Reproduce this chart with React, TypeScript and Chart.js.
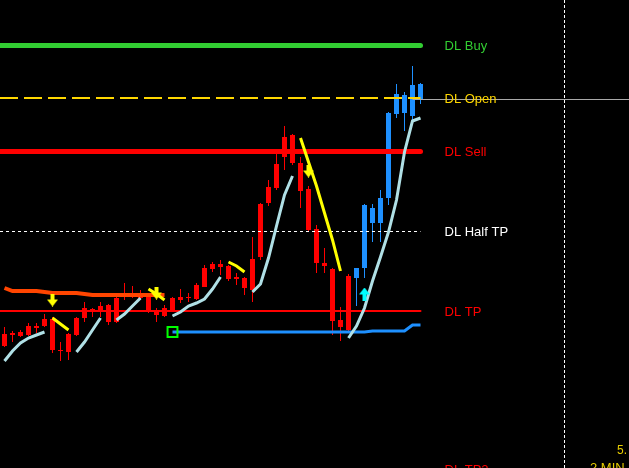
import React, { useEffect, useRef } from "react";
import { Chart, registerables } from "chart.js";

Chart.register(...registerables);

// M2 bars, oldest first
const opens = [1.08122, 1.08133, 1.08136, 1.08133, 1.08142, 1.08142, 1.08149, 1.08118, 1.08116, 1.08133, 1.0815, 1.08159, 1.08156, 1.08163, 1.08146, 1.08171, 1.08174, 1.0817, 1.08173, 1.08158, 1.08152, 1.08156, 1.08171, 1.0817, 1.08169, 1.08181, 1.08199, 1.08204, 1.08202, 1.08189, 1.0819, 1.08178, 1.08211, 1.08265, 1.0828, 1.08311, 1.08333, 1.08305, 1.08279, 1.08239, 1.08205, 1.08199, 1.08148, 1.08138, 1.0819, 1.082, 1.0826, 1.08245, 1.0827, 1.08354, 1.08373, 1.08352, 1.08384];
const highs = [1.08141, 1.08137, 1.08138, 1.08145, 1.08145, 1.08154, 1.08151, 1.08126, 1.08135, 1.08151, 1.08166, 1.0816, 1.08166, 1.08164, 1.08171, 1.08185, 1.08182, 1.08178, 1.08175, 1.0816, 1.08163, 1.08171, 1.08179, 1.08175, 1.08185, 1.08203, 1.08206, 1.08208, 1.08203, 1.08195, 1.08191, 1.08231, 1.08265, 1.08288, 1.08315, 1.08342, 1.08334, 1.08311, 1.08282, 1.08243, 1.0822, 1.082, 1.08161, 1.08194, 1.082, 1.08264, 1.08264, 1.08278, 1.08356, 1.08384, 1.08376, 1.08402, 1.08385];
const lows = [1.08121, 1.08126, 1.08131, 1.08132, 1.08135, 1.08141, 1.08115, 1.08107, 1.08108, 1.08132, 1.08146, 1.08151, 1.08151, 1.08143, 1.08145, 1.08168, 1.0817, 1.08168, 1.08155, 1.08146, 1.08151, 1.08156, 1.08165, 1.08166, 1.08168, 1.08181, 1.08196, 1.08193, 1.08187, 1.08183, 1.08173, 1.08166, 1.08208, 1.08262, 1.08278, 1.08298, 1.08303, 1.0826, 1.08237, 1.08195, 1.08195, 1.08133, 1.08127, 1.08135, 1.08162, 1.0819, 1.08226, 1.08226, 1.08263, 1.0835, 1.08337, 1.08348, 1.08364];
const closes = [1.08134, 1.08135, 1.08132, 1.08142, 1.0814, 1.08149, 1.08118, 1.08117, 1.08134, 1.0815, 1.0816, 1.08157, 1.08162, 1.08146, 1.0817, 1.08174, 1.08171, 1.08175, 1.08156, 1.08153, 1.0816, 1.0817, 1.08168, 1.08171, 1.08183, 1.082, 1.08204, 1.08201, 1.08189, 1.08191, 1.0818, 1.08209, 1.08264, 1.08281, 1.08304, 1.08331, 1.08305, 1.08277, 1.08238, 1.08205, 1.08202, 1.08147, 1.08141, 1.08192, 1.082, 1.08263, 1.08245, 1.0827, 1.08355, 1.08374, 1.08355, 1.08383, 1.08369];

// first bar painted with the bullish trend colour
const TREND_UP_FROM = 44;

// Hull MA: rising leg and falling leg
const maRising = [1.08107, 1.08117, 1.08125, 1.0813, 1.08133, 1.08136, null, null, null, 1.08116, 1.08126, 1.08138, 1.0815, null, 1.08148, 1.08154, 1.08162, 1.0817, null, null, null, 1.08152, 1.08156, 1.08162, 1.08165, 1.08169, 1.08179, 1.08191, null, null, null, 1.08176, 1.08184, 1.0821, 1.08242, 1.08273, 1.08292, null, null, null, null, null, null, 1.0813, 1.08142, 1.0816, 1.08187, 1.08211, 1.08236, 1.08268, 1.08316, 1.08347, 1.0835];
const maFalling = [null, null, null, null, null, null, 1.0815, 1.08144, 1.08138, null, null, null, null, null, null, null, null, null, 1.08179, 1.08174, 1.08168, null, null, null, null, null, null, null, 1.08206, 1.08202, 1.08196, null, null, null, null, null, null, 1.0833, 1.08306, 1.08282, 1.08255, 1.08228, 1.08197, null, null, null, null, null, null, null, null, null, null];

// trailing stops: bearish (from bar 0) and bullish (from bar 21)
const STOP_DOWN_FROM = 0;
const stopDown = [1.0818, 1.08177, 1.08177, 1.08177, 1.08177, 1.08176, 1.08175, 1.08175, 1.08175, 1.08175, 1.08174, 1.08173, 1.08173, 1.08173, 1.08173, 1.08173, 1.08173, 1.08173, 1.08173, 1.08173, 1.08173];
const STOP_UP_FROM = 21;
const stopUp = [1.08136, 1.08136, 1.08136, 1.08136, 1.08136, 1.08136, 1.08136, 1.08136, 1.08136, 1.08136, 1.08136, 1.08136, 1.08136, 1.08136, 1.08136, 1.08136, 1.08136, 1.08136, 1.08136, 1.08136, 1.08136, 1.08136, 1.08136, 1.08136, 1.08136, 1.08137, 1.08137, 1.08137, 1.08137, 1.08137, 1.08143, 1.08143];

// signal arrows
const sellArrowBars = [6, 19, 38];
const sellArrowPrices = [1.08168, 1.08175, 1.08297];
const buyArrowBars = [45];
const buyArrowPrices = [1.08174];
const ENTRY_BAR = 21;

// DL levels
const levelNames = ["DL Buy", "DL Open", "DL Sell", "DL Half TP", "DL TP", "DL TP2"];
const levelPrices = [1.08423, 1.0837, 1.08317, 1.08237, 1.08157, 1.07999];

const SEPARATOR_BAR = 70;
const infoTexts = ["5.", "2 MIN"];

const PRICE_MIN = 1.08;
const PRICE_MAX = 1.08468;

const LEVEL_STYLE = [
  { color: "#32CD32", width: 5, dash: [] as number[] },
  { color: "#FFD700", width: 2, dash: [18, 6] },
  { color: "#FF0000", width: 5, dash: [] as number[] },
  { color: "#FFFFFF", width: 1, dash: [3, 3] },
  { color: "#FF0000", width: 2, dash: [] as number[] },
  { color: "#FF0000", width: 2, dash: [] as number[] },
];

const bars = opens.map((_, i) => i);
const LAST = bars.length - 1;
const candleColors = bars.map((i) => (i >= TREND_UP_FROM ? "#1E90FF" : "#FF0000"));

const toPoints = (vals: (number | null)[], from = 0) =>
  vals.map((v, k) => ({ x: from + k, y: v }));

function makeArrow(color: string, down: boolean): HTMLCanvasElement {
  const c = document.createElement("canvas");
  c.width = 11;
  c.height = 13;
  const g = c.getContext("2d")!;
  g.fillStyle = color;
  g.beginPath();
  if (down) {
    g.rect(3.5, 0, 4, 6);
    g.moveTo(0, 6);
    g.lineTo(11, 6);
    g.lineTo(5.5, 13);
  } else {
    g.rect(3.5, 7, 4, 6);
    g.moveTo(0, 7);
    g.lineTo(11, 7);
    g.lineTo(5.5, 0);
  }
  g.closePath();
  g.fill();
  return c;
}

const snap = (v: number, w: number) => (w % 2 === 1 ? Math.round(v - 0.5) + 0.5 : Math.round(v));

const overlay = {
  id: "overlay",
  beforeDraw(chart: any) {
    const { ctx, width, height } = chart;
    ctx.save();
    ctx.fillStyle = "#000";
    ctx.fillRect(0, 0, width, height);
    ctx.restore();
  },
  afterDatasetDraw(chart: any, args: any) {
    if (args.index !== 1) return;
    const { ctx, chartArea } = chart;
    const xs = chart.scales.x;
    const ys = chart.scales.y;
    const xEnd = xs.getPixelForValue(LAST);
    ctx.save();
    // bid line
    const by = snap(ys.getPixelForValue(closes[LAST]), 1);
    ctx.strokeStyle = "#A9A9A9";
    ctx.lineWidth = 1;
    ctx.beginPath();
    ctx.moveTo(xs.getPixelForValue(LAST - 1), by);
    ctx.lineTo(chartArea.right, by);
    ctx.stroke();
    levelPrices.forEach((p, k) => {
      const st = LEVEL_STYLE[k];
      const py = snap(ys.getPixelForValue(p), st.width);
      ctx.strokeStyle = st.color;
      ctx.lineWidth = st.width;
      ctx.setLineDash(st.dash);
      ctx.lineCap = st.dash.length ? "butt" : "round";
      ctx.beginPath();
      ctx.moveTo(chartArea.left, py);
      ctx.lineTo(xEnd, py);
      ctx.stroke();
    });
    ctx.restore();
  },
  afterDraw(chart: any) {
    const { ctx, chartArea } = chart;
    const xs = chart.scales.x;
    const ys = chart.scales.y;
    ctx.save();
    // period separator
    const sx = snap(xs.getPixelForValue(SEPARATOR_BAR), 1);
    ctx.strokeStyle = "#FFFFFF";
    ctx.lineWidth = 1;
    ctx.setLineDash([3, 2]);
    ctx.beginPath();
    ctx.moveTo(sx, chartArea.top);
    ctx.lineTo(sx, chartArea.bottom);
    ctx.stroke();
    ctx.setLineDash([]);
    // level labels
    ctx.font = '13px "Liberation Sans", Arial, sans-serif';
    ctx.textBaseline = "middle";
    ctx.textAlign = "left";
    const lx = xs.getPixelForValue(LAST + 3);
    levelNames.forEach((name, k) => {
      ctx.fillStyle = LEVEL_STYLE[k].color;
      ctx.fillText(name, lx, ys.getPixelForValue(levelPrices[k]) + 1.5);
    });
    // info panel
    ctx.fillStyle = "#E6CC00";
    ctx.font = '12px "Liberation Sans", Arial, sans-serif';
    ctx.fillText(infoTexts[0], chartArea.right - 12, 451);
    ctx.font = '13px "Liberation Sans", Arial, sans-serif';
    ctx.fillText(infoTexts[1], chartArea.right - 39, 468);
    ctx.restore();
  },
};

export default function App() {
  const ref = useRef<HTMLCanvasElement>(null);

  useEffect(() => {
    document.body.style.margin = "0";
    document.body.style.background = "#000";
    const sellArrow = makeArrow("#FFFF00", true);
    const buyArrow = makeArrow("#00FFFF", false);

    const chart = new Chart(ref.current!, {
      type: "bar",
      data: {
        datasets: [
          {
            type: "bar",
            data: bars.map((i) => ({ x: i, y: [lows[i], highs[i]] })) as any,
            backgroundColor: candleColors,
            barThickness: 1,
            grouped: false,
            inflateAmount: 0,
            order: 20,
          },
          {
            type: "bar",
            data: bars.map((i) => ({ x: i, y: [opens[i], closes[i]] })) as any,
            backgroundColor: candleColors,
            barThickness: 5,
            grouped: false,
            inflateAmount: 0,
            order: 19,
          },
          {
            type: "line",
            data: toPoints(stopDown, STOP_DOWN_FROM) as any,
            borderColor: "#FF4500",
            borderWidth: 4,
            pointRadius: 0,
            order: 10,
          },
          {
            type: "line",
            data: toPoints(stopUp, STOP_UP_FROM) as any,
            borderColor: "#1E90FF",
            borderWidth: 3,
            pointRadius: 0,
            order: 9,
          },
          {
            type: "line",
            data: toPoints(maRising) as any,
            borderColor: "#B0E0E6",
            borderWidth: 3,
            pointRadius: 0,
            spanGaps: false,
            order: 8,
          },
          {
            type: "line",
            data: toPoints(maFalling) as any,
            borderColor: "#FFFF00",
            borderWidth: 3,
            pointRadius: 0,
            spanGaps: false,
            order: 7,
          },
          {
            type: "line",
            data: [{ x: ENTRY_BAR, y: stopUp[ENTRY_BAR - STOP_UP_FROM] }] as any,
            showLine: false,
            pointStyle: "rect",
            pointRadius: 7,
            borderColor: "#00FF00",
            borderWidth: 2,
            backgroundColor: "rgba(0,0,0,0)",
            order: 3,
          },
          {
            type: "line",
            data: sellArrowBars.map((b, k) => ({ x: b, y: sellArrowPrices[k] })) as any,
            showLine: false,
            pointStyle: sellArrow as any,
            pointRadius: 6,
            order: 2,
          },
          {
            type: "line",
            data: buyArrowBars.map((b, k) => ({ x: b, y: buyArrowPrices[k] })) as any,
            showLine: false,
            pointStyle: buyArrow as any,
            pointRadius: 6,
            order: 1,
          },
        ],
      },
      options: {
        responsive: false,
        animation: false,
        events: [],
        layout: { padding: 0, autoPadding: false },
        plugins: { legend: { display: false }, tooltip: { enabled: false } },
        scales: {
          x: {
            type: "linear",
            min: -0.5625,
            max: 78.0625,
            offset: false,
            display: false,
            grid: { display: false, offset: false },
          },
          y: {
            type: "linear",
            min: PRICE_MIN,
            max: PRICE_MAX,
            display: false,
            grid: { display: false },
          },
        },
      },
      plugins: [overlay],
    });
    return () => chart.destroy();
  }, []);

  return <canvas ref={ref} width={629} height={468} style={{ display: "block" }} />;
}
